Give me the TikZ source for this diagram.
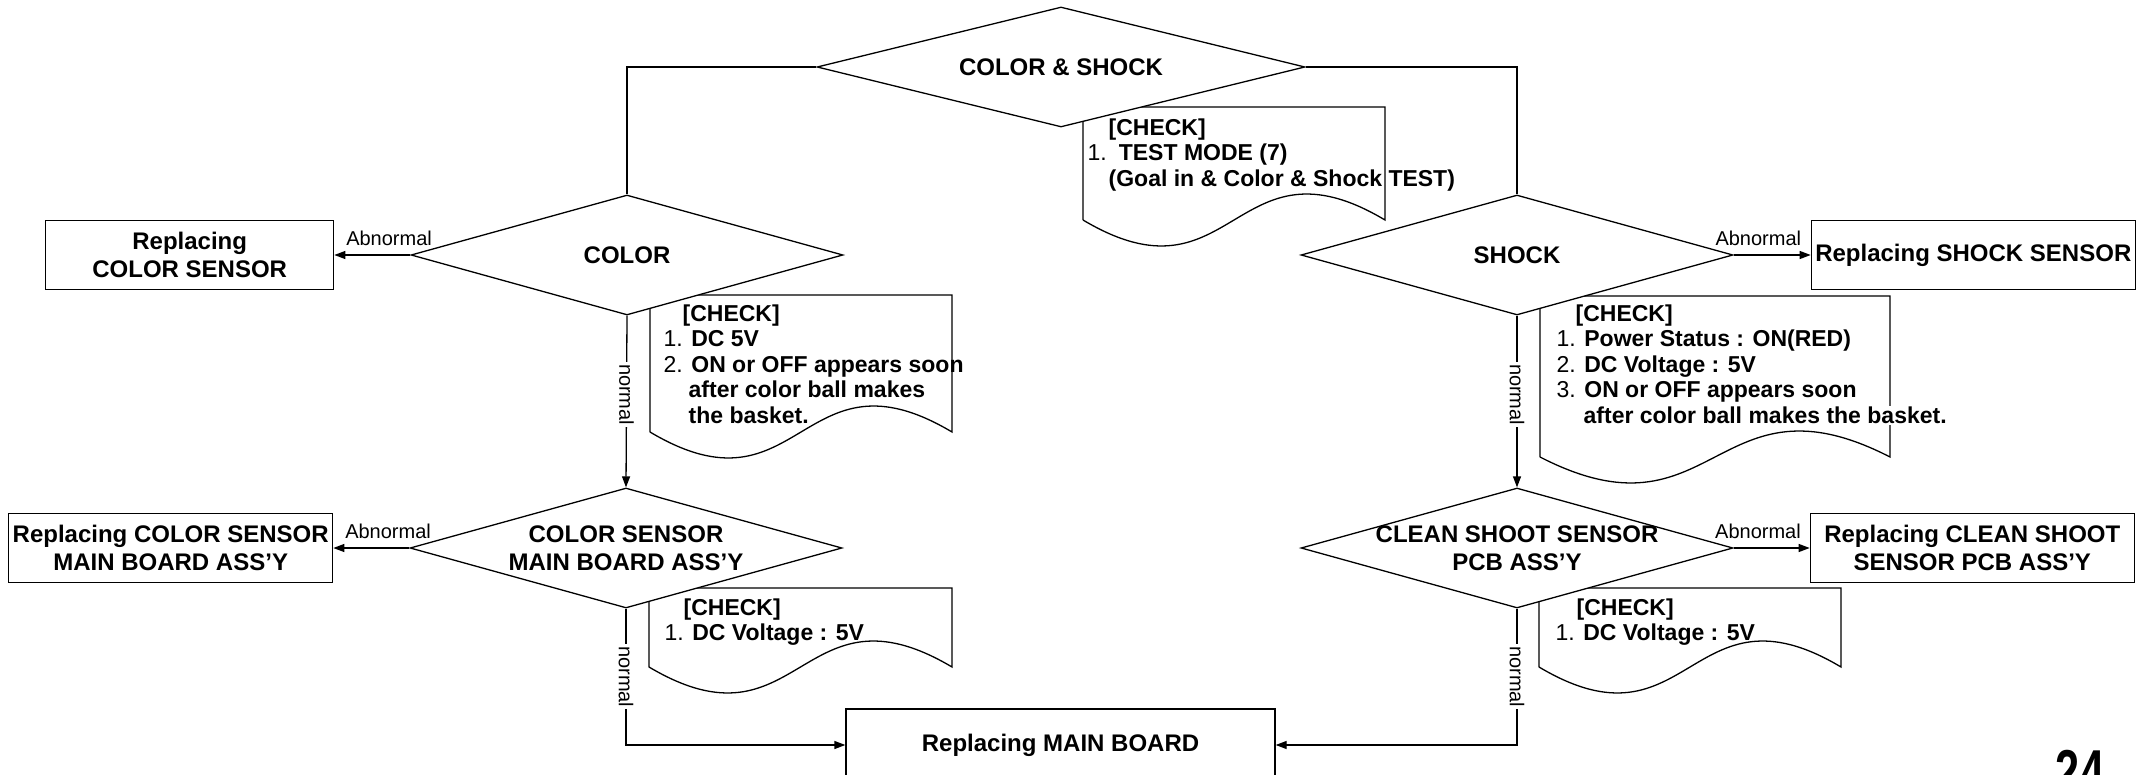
\documentclass[tikz,border=0pt]{standalone}
\usepackage{fontspec}
\setmainfont{Liberation Sans}
\usetikzlibrary{shapes.geometric,arrows.meta,positioning}

\newcommand{\bigtxt}{\fontsize{24}{28}\selectfont\bfseries}
\newcommand{\chktxt}{\fontsize{23}{25.5}\selectfont}
\newcommand{\yntxt}{\fontsize{20}{22}\selectfont}
\newcommand{\bt}[1]{\textbf{#1}}
% white strip behind a line that runs over a sheet edge
\newcommand{\wbg}[1]{{\setlength{\fboxsep}{1pt}\colorbox{white}{#1}}}

% check sheet with a wavy bottom: left, top, right, bottom
\newcommand{\chksheet}[4]{%
  \draw (#1,#4) -- (#1,#2) -- (#3,#2) -- (#3,#4)
    .. controls ({(#1+#3)/2},{#4-90}) and ({(#1+#3)/2},{#4+90}) .. (#1,#4);}

\tikzset{
  decision/.style={diamond, draw, fill=white, aspect=3.6, inner sep=0pt,
    minimum width=432pt, minimum height=120pt},
  dtxt/.style={font=\bigtxt, align=center, inner sep=0pt},
  repl/.style={rectangle, draw, fill=white, minimum width=324pt,
    minimum height=69pt, align=center, font=\bigtxt, inner sep=2pt},
  chk/.style={font=\chktxt, align=left, inner sep=0pt, anchor=north west},
  yn/.style={font=\yntxt, inner sep=2pt},
  arr/.style={-{Triangle[length=11pt,width=8pt]}},
}

\begin{document}
\begin{tikzpicture}[x=1pt, y=-1pt, line width=1.3pt]
\useasboundingbox (0,0) rectangle (2141,775);

% sheets first, the decisions cover their corners
\chksheet{1083}{107}{1385}{220}
\chksheet{650}{295}{952}{432}
\chksheet{1540}{296}{1890}{457}
\chksheet{649}{588}{952}{667}
\chksheet{1539}{588}{1841}{667}

\node[decision, minimum width=488pt,
  label={[dtxt]center:COLOR \& SHOCK}] (cs) at (1061,67) {};
\node[decision, label={[dtxt]center:COLOR}] (col) at (627,255) {};
\node[decision, label={[dtxt]center:SHOCK}] (shk) at (1517,255) {};
\node[decision, label={[dtxt]center:COLOR SENSOR\\MAIN BOARD ASS’Y}] (colmb) at (626,548) {};
\node[decision, label={[dtxt]center:CLEAN SHOOT SENSOR\\PCB ASS’Y}] (shkpcb) at (1517,548) {};

\node[repl, minimum width=288pt, left=76pt of col] (rcol) {Replacing\\COLOR SENSOR};
\node[repl, right=77pt of shk] (rshk) {Replacing SHOCK SENSOR};
\node[repl, left=76pt of colmb] (rcolmb) {Replacing COLOR SENSOR\\MAIN BOARD ASS’Y};
\node[repl, right=76pt of shkpcb] (rshkpcb) {Replacing CLEAN SHOOT\\SENSOR PCB ASS’Y};
\node[repl, minimum width=429pt, minimum height=72pt] (mb) at (1060.5,745) {Replacing MAIN BOARD};

% check lists
\node[chk] (cs-chk) at (1087,118) {%
  \hspace*{21pt}\bt{[CHECK]}\\
  1.\hspace*{12pt}\bt{TEST MODE (7)}\\
  \hspace*{21pt}\bt{(Goal in \& Color \& Shock TEST)}};
\node[chk] (col-chk) at (663,304) {%
  \hspace*{19pt}\bt{[CHECK]}\\
  1. \bt{DC 5V}\\
  2. \bt{ON or OFF appears soon}\\
  \hspace*{25pt}\bt{after color ball makes}\\
  \hspace*{25pt}\bt{the basket.}};
\node[chk] (shk-chk) at (1556,304) {%
  \hspace*{19pt}\bt{[CHECK]}\\
  1. \bt{Power Status : ON(RED)}\\
  2. \bt{DC Voltage : 5V}\\
  3. \bt{ON or OFF appears soon}\\
  \hspace*{26pt}\wbg{\bt{after color ball makes the basket.}}};
\node[chk] (colmb-chk) at (664,598) {%
  \hspace*{19pt}\bt{[CHECK]}\\
  1. \bt{DC Voltage : 5V}};
\node[chk] (shkpcb-chk) at (1555,598) {%
  \hspace*{21pt}\bt{[CHECK]}\\
  1. \bt{DC Voltage : 5V}};

% flow
\draw (cs.west) -| (col.north);
\draw (cs.east) -| (shk.north);
\draw[arr] (col.west) -- node[yn, above=7pt, pos=0.28] {Abnormal} (rcol.east);
\draw[arr] (shk.east) -- node[yn, above=7pt, pos=0.32] {Abnormal} (rshk.west);
\draw[arr] (colmb.west) -- node[yn, above=7pt, pos=0.28] {Abnormal} (rcolmb.east);
\draw[arr] (shkpcb.east) -- node[yn, above=7pt, pos=0.32] {Abnormal} (rshkpcb.west);
\draw[arr] (col.south) -- node[yn, fill=white, rotate=-90, pos=0.46] {normal} (colmb.north);
\draw[arr] (shk.south) -- node[yn, fill=white, rotate=-90, pos=0.46] {normal} (shkpcb.north);
\draw[arr] (colmb.south) |- node[yn, fill=white, rotate=-90, pos=0.25] {normal} (mb.west);
\draw[arr] (shkpcb.south) |- node[yn, fill=white, rotate=-90, pos=0.25] {normal} (mb.east);

\node[font=\fontsize{62}{62}\selectfont\bfseries, xscale=0.7, inner sep=0pt,
  anchor=north] (pg) at (2080,750) {24};
\end{tikzpicture}
\end{document}
